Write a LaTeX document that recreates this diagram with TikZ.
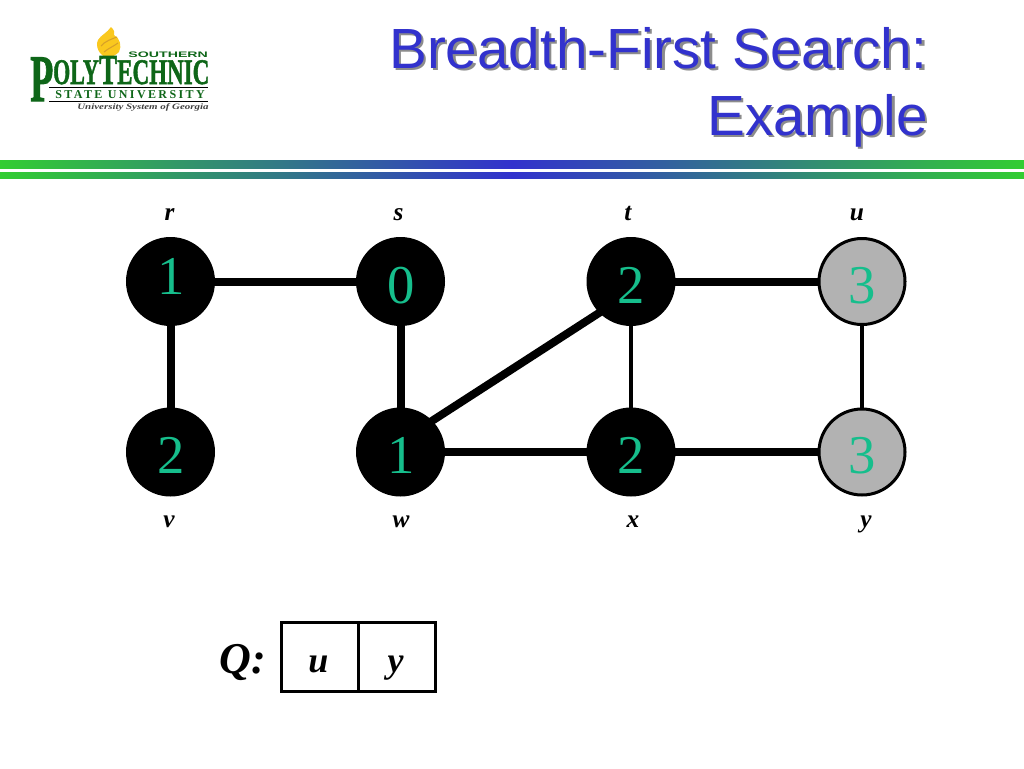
\documentclass[tikz,border=0pt]{standalone}
\usepackage{fontspec}
\setmainfont{Liberation Serif}
\newfontfamily\arialf{Liberation Sans}
\newfontfamily\logofont[FakeBold=1.5]{Liberation Serif Bold}
\definecolor{barGreen}{RGB}{50,205,50}
\definecolor{barBlue}{RGB}{50,50,205}
\definecolor{digitTeal}{RGB}{22,190,140}
\definecolor{nodeGrey}{RGB}{178,178,178}
\definecolor{titleShadow}{RGB}{140,140,140}
\definecolor{logoGreen}{RGB}{14,102,24}
\definecolor{flameYellow}{RGB}{250,200,30}
\definecolor{flameDark}{RGB}{215,160,40}
\tikzset{
  x=0.75pt,y=-0.75pt,
  vertexblack/.style={circle,draw=black,fill=black,line width=2.25pt,minimum size=64.5pt,inner sep=0pt,outer sep=0pt},
  vertexgrey/.style={circle,draw=black,fill=nodeGrey,line width=2.25pt,minimum size=64.5pt,inner sep=0pt,outer sep=0pt},
  digit/.style={anchor=base,inner sep=0pt,text=digitTeal,font=\fontsize{41}{41}\selectfont},
  vname/.style={anchor=base,inner sep=0pt,font=\fontsize{19}{19}\selectfont\bfseries\itshape},
  qname/.style={anchor=base,inner sep=0pt,font=\fontsize{27}{27}\selectfont\bfseries\itshape},
  treeedge/.style={line width=6pt,black},
  plainedge/.style={line width=2.6pt,black},
  titletext/.style={anchor=base east,inner sep=0pt,font=\arialf\fontsize{42.5}{42.5}\selectfont},
  logotext/.style={anchor=base west,inner sep=0pt,text=logoGreen},
}
\begin{document}
\begin{tikzpicture}
\useasboundingbox (0,0) rectangle (1024,768);
\fill[white] (0,0) rectangle (1024,768);
% bars
\shade[left color=barGreen,right color=barGreen,middle color=barBlue] (0,160) rectangle (1024,168.5);
\shade[left color=barGreen,right color=barGreen,middle color=barBlue] (0,172) rectangle (1024,178);
% title
\node[titletext,text=titleShadow] (t1s) at (930.5,70.5) {Breadth-First Search:};
\node[titletext,text=titleShadow] (t2s) at (930.5,137.5) {Example};
\node[titletext,text=barBlue] (t1) at (928,68) {Breadth-First Search:};
\node[titletext,text=barBlue] (t2) at (928,135) {Example};
% logo
\fill[flameYellow] (108,58) .. controls (99,56) and (95,46) .. (98,40) .. controls (101,35) and (107,33) .. (111,27) .. controls (114,30) and (115,32) .. (114,35) .. controls (120,38) and (122,46) .. (119,52) .. controls (116,55) and (112,57) .. (108,58) -- cycle;
\draw[flameDark,line width=0.8pt] (101,46) .. controls (105,41) and (112,39) .. (117,37) (104,52) .. controls (109,48) and (114,46) .. (118,43);
\node[logotext,font=\arialf\bfseries\fontsize{6}{6}\selectfont,xscale=1.77] (lsouth) at (128,57) {SOUTHERN};
\node[logotext,font=\logofont\fontsize{50}{50}\selectfont,xscale=0.57] (lp) at (30,101) {P};
\node[logotext,font=\logofont\fontsize{27}{27}\selectfont,xscale=0.61] (loly) at (53,84) {OLY};
\node[logotext,font=\logofont\fontsize{32}{32}\selectfont,xscale=0.63] (lt) at (99,84) {T};
\node[logotext,font=\logofont\fontsize{27}{27}\selectfont,xscale=0.64] (lechnic) at (117,84) {ECHNIC};
\draw[black,line width=0.75pt] (49,87.5) -- (208,87.5);
\draw[black,line width=0.75pt] (49,101) -- (208,101);
\node[logotext,font=\bfseries\fontsize{9}{9}\selectfont\addfontfeature{LetterSpace=20}] (lstate) at (55,98) {STATE UNIVERSITY};
\node[anchor=base west,inner sep=0pt,text=black!75,font=\bfseries\itshape\fontsize{6.2}{6.2}\selectfont,xscale=1.32] (lusg) at (77,109) {University System of Georgia};
% vertices
\node[vertexblack] (r) at (170.5,281.5) {};
\node[vertexblack] (s) at (400.5,281.5) {};
\node[vertexblack] (t) at (631,281.5) {};
\node[vertexgrey]  (u) at (862,281.5) {};
\node[vertexblack] (v) at (170.5,452) {};
\node[vertexblack] (w) at (400.5,452) {};
\node[vertexblack] (x) at (631,452) {};
\node[vertexgrey]  (y) at (862,452) {};
% edges
\draw[treeedge] (r) -- (s);
\draw[treeedge] (r) -- (v);
\draw[treeedge] (s) -- (w);
\draw[treeedge] (w.45) -- (t.225);
\draw[treeedge] (w) -- (x);
\draw[treeedge] (t) -- (u);
\draw[treeedge] (x) -- (y);
\draw[plainedge] (t) -- (x);
\draw[plainedge] (u) -- (y);
% digits
\node[digit] (dr) at (171,294) {1};
\node[digit] (ds) at (401,303) {0};
\node[digit] (dt) at (631.5,303) {2};
\node[digit] (du) at (862,303) {3};
\node[digit] (dv) at (171,473) {2};
\node[digit] (dw) at (401,473) {1};
\node[digit] (dx) at (631.5,473) {2};
\node[digit] (dy) at (862,473) {3};
% names
\node[vname] (nr) at (169.5,220) {r};
\node[vname] (ns) at (398.5,220) {s};
\node[vname] (nt) at (628,220) {t};
\node[vname] (nu) at (857,220) {u};
\node[vname] (nv) at (169,527) {v};
\node[vname] (nw) at (401,527) {w};
\node[vname] (nx) at (633,527) {x};
\node[vname] (ny) at (866,527) {y};
% queue
\node[anchor=base,inner sep=0pt,font=\fontsize{33}{33}\selectfont\bfseries\itshape] (ql) at (242.5,673) {Q:};
\node[draw=black,line width=2.25pt,minimum width=57.75pt,minimum height=51.75pt,inner sep=0pt,outer sep=0pt] (qa) at (319.5,656.5) {};
\node[draw=black,line width=2.25pt,minimum width=57.75pt,minimum height=51.75pt,inner sep=0pt,outer sep=0pt] (qb) at (396.5,656.5) {};
\node[qname] (qu) at (318.5,672) {u};
\node[qname] (qy) at (395.5,672) {y};
\end{tikzpicture}
\end{document}
